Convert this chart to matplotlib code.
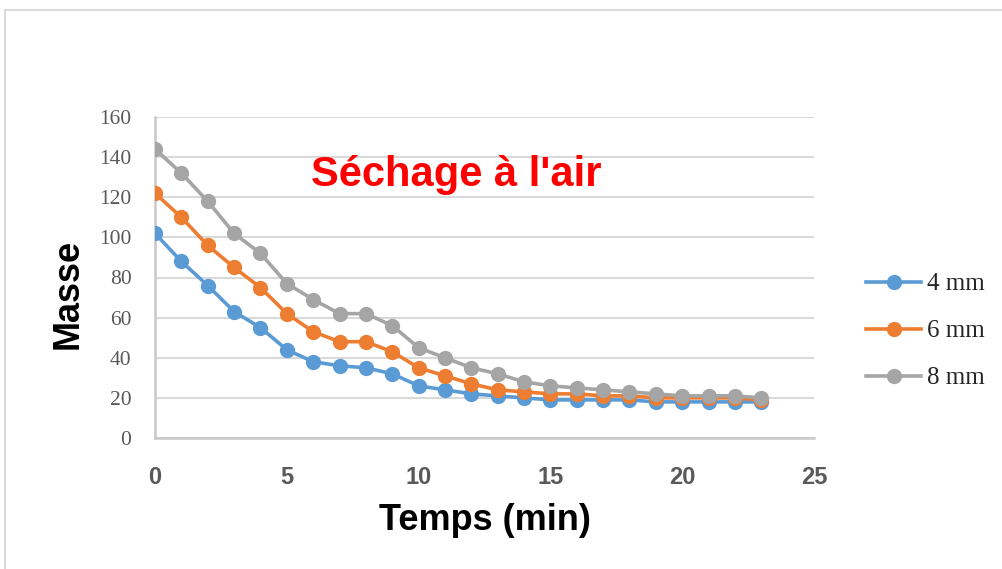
import matplotlib
matplotlib.use("Agg")
import matplotlib.pyplot as plt
from matplotlib.patches import Rectangle

# Data
temps = list(range(24))
masse_4mm = [102, 88, 76, 63, 55, 44, 38, 36, 35, 32, 26, 24, 22, 21, 20, 19, 19, 19, 19, 18, 18, 18, 18, 18]
masse_6mm = [122, 110, 96, 85, 75, 62, 53, 48, 48, 43, 35, 31, 27, 24, 23, 22, 22, 21, 21, 20, 20, 20, 20, 19]
masse_8mm = [144, 132, 118, 102, 92, 77, 69, 62, 62, 56, 45, 40, 35, 32, 28, 26, 25, 24, 23, 22, 21, 21, 21, 20]
series_labels = ["4 mm", "6 mm", "8 mm"]
series_colors = ["#5B9BD5", "#ED7D31", "#A5A5A5"]
x_ticks = [0, 5, 10, 15, 20, 25]
y_ticks = [0, 20, 40, 60, 80, 100, 120, 140, 160]

W, H = 1002, 569
fig = plt.figure(figsize=(W / 100, H / 100), dpi=100)
fig.patch.set_facecolor("white")

# outer chart frame
fig.patches.append(Rectangle((5 / W, -0.1), 1.2, 1 - 10 / H + 0.1, transform=fig.transFigure,
                             fill=False, edgecolor="#D9D9D9", linewidth=1.5))

ax = fig.add_axes([155 / W, 1 - 438 / H, (814 - 155) / W, (438 - 117) / H])

for ys, lab, col in zip([masse_4mm, masse_6mm, masse_8mm], series_labels, series_colors):
    ax.plot(temps, ys, color=col, linewidth=2.6, marker="o", markersize=11,
            markeredgewidth=0, label=lab, zorder=3)

ax.set_xlim(0, 25)
ax.set_ylim(0, 160)
ax.set_xticks(x_ticks)
ax.set_yticks(y_ticks)
ax.grid(axis="y", color="#D9D9D9", linewidth=1.5, zorder=0)
ax.set_axisbelow(True)
for s in ["top", "right"]:
    ax.spines[s].set_visible(False)
for s in ["left", "bottom"]:
    ax.spines[s].set_color("#C8C8C8")
    ax.spines[s].set_linewidth(1.8)
ax.tick_params(length=0)
ax.tick_params(axis="y", pad=17, labelsize=15.5, labelcolor="#595959")
ax.tick_params(axis="x", pad=20, labelsize=17, labelcolor="#595959")
for t in ax.get_yticklabels():
    t.set_fontfamily("Liberation Serif")
for t in ax.get_xticklabels():
    t.set_fontfamily("Liberation Sans")
    t.set_fontweight("bold")

fig.text(68 / W, 1 - 294 / H, "Masse", rotation=90, ha="center", va="center",
         fontsize=26, fontweight="bold", family="Liberation Sans", color="black")
fig.text(485 / W, 1 - 520 / H, "Temps (min)", ha="center", va="center",
         fontsize=26, fontweight="bold", family="Liberation Sans", color="black")
fig.text(456 / W, 1 - 175 / H, "Séchage à l'air", ha="center", va="center",
         fontsize=30, fontweight="bold", family="Liberation Sans", color="#FF0000")

leg = ax.legend(loc="center left", bbox_to_anchor=(866 / W, 1 - 331 / H),
                bbox_transform=fig.transFigure, frameon=False, borderpad=0,
                borderaxespad=0, handlelength=2.2, handletextpad=0.25,
                labelspacing=0.98, prop={"family": "Liberation Serif", "size": 18})
for t in leg.get_texts():
    t.set_color("#262626")

fig.savefig("out.png", dpi=100, facecolor="white")
